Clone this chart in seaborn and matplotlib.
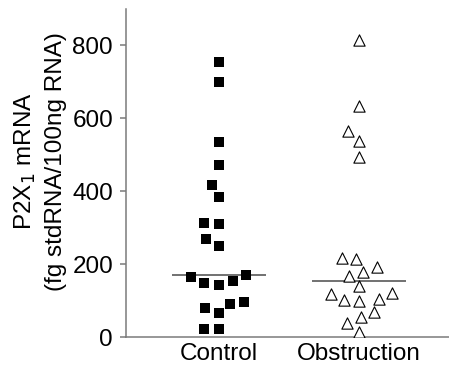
import numpy as np
import pandas as pd
import seaborn as sns
import matplotlib.pyplot as plt

sns.set_style("ticks")
plt.rcParams['font.family'] = ['Liberation Sans', 'DejaVu Sans']
plt.rcParams['text.color'] = 'black'
plt.rcParams['axes.labelcolor'] = 'black'

categories = ['Control', 'Obstruction']
control = [755, 700, 536, 472, 417, 383, 314, 310, 268, 250, 170,
           164, 154, 147, 143, 95, 91, 79, 65, 22, 22]
obstruction = [816, 635, 564, 539, 493, 216, 213, 191, 179, 168,
               140, 120, 118, 104, 102, 100, 68, 54, 38, 15]
yticks = [0, 200, 400, 600, 800]

df = pd.DataFrame({
    'group': ['Control'] * len(control) + ['Obstruction'] * len(obstruction),
    'value': control + obstruction,
})

fig = plt.figure(figsize=(4.49, 3.69), dpi=100)
ax = fig.add_axes([126 / 449, 32 / 369, 323 / 449, 328 / 369])

FS = 17.5
GRAY = '#7a7a7a'

# median lines
sns.boxplot(data=df, x='group', y='value', order=categories,
            showbox=False, showcaps=False, showfliers=False, whis=0,
            whiskerprops={'visible': False},
            medianprops={'color': '#666666', 'linewidth': 1.3, 'zorder': 0.5},
            width=0.67, ax=ax)

# swarms (spacing size first, real marker size set after layout)
sns.swarmplot(data=df[df.group == 'Control'], x='group', y='value',
              order=categories, marker='s', color='black', size=10,
              linewidth=0, ax=ax)
sns.swarmplot(data=df[df.group == 'Obstruction'], x='group', y='value',
              order=categories, marker='^', color='white', size=10,
              linewidth=0, ax=ax)

ax.set_xlim(-0.664, 1.643)
ax.set_ylim(0, 900)
ax.set_yticks(yticks)
ax.set_yticklabels([str(t) for t in yticks], fontsize=FS)
ax.set_xticks([0, 1])
ax.set_xticklabels(categories, fontsize=FS)
ax.set_xlabel('')
ax.set_ylabel('P2X$_1$ mRNA\n(fg stdRNA/100ng RNA)', fontsize=FS,
              linespacing=1.4, color='black')
ax.yaxis.set_label_coords(-0.183, 0.535)

sns.despine(ax=ax)
for s in ['left', 'bottom']:
    ax.spines[s].set_color(GRAY)
    ax.spines[s].set_linewidth(1.1)
ax.tick_params(axis='y', length=4.3, width=1.1, color=GRAY, pad=5,
               labelcolor='black')
ax.tick_params(axis='x', length=0, pad=4, labelcolor='black')

fig.canvas.draw()
colls = [c for c in ax.collections if c.get_offsets().shape[0] > 1]
for c in colls:
    if 'draw' in c.__dict__:
        del c.draw
colls[0].set_sizes([52])
colls[0].set_facecolor('black')
colls[0].set_edgecolor('none')
colls[1].set_sizes([66])
colls[1].set_facecolor('white')
colls[1].set_edgecolor('black')
colls[1].set_linewidth(0.8)

fig.savefig('out.png', dpi=100)
